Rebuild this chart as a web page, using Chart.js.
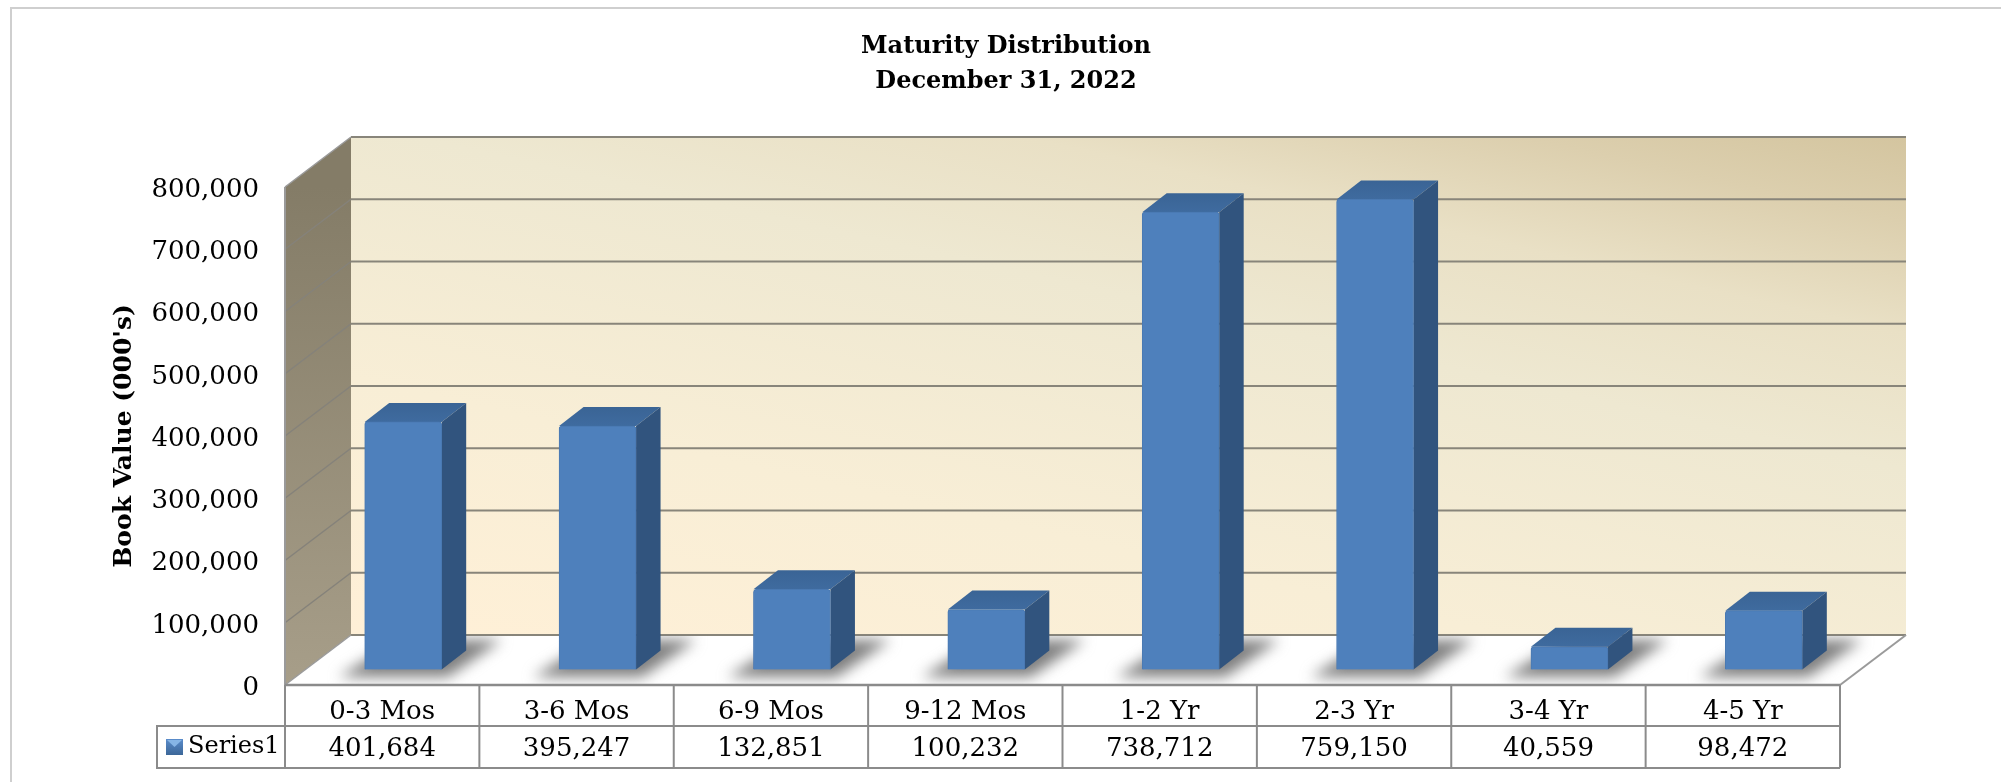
<!DOCTYPE html>
<html lang="en">
<head>
    <meta charset="UTF-8">
    <title>Maturity Distribution</title>
    <style>
        body { margin: 0; background: #fff; }
        .frame {
            position: absolute; left: 10px; top: 7px; right: 0; bottom: 0;
            border-left: 2px solid #cfcfcf; border-top: 2px solid #cfcfcf;
        }
        canvas { position: absolute; left: 0; top: 0; }
    </style>
    <script src="https://cdn.jsdelivr.net/npm/chart.js"></script>
</head>
<body>
    <div class="frame"></div>
    <canvas id="maturityChart" width="2001" height="782"></canvas>
    <script>
        const categories = ['0-3 Mos', '3-6 Mos', '6-9 Mos', '9-12 Mos', '1-2 Yr', '2-3 Yr', '3-4 Yr', '4-5 Yr'];
        const bookValues = [401684, 395247, 132851, 100232, 738712, 759150, 40559, 98472];
        const seriesName = 'Series1';
        const chartTitle = ['Maturity Distribution', 'December 31, 2022'];
        const yTitle = "Book Value (000's)";
        const yMax = 800000;
        const yStep = 100000;

        const FONT = '"DejaVu Serif", serif';
        const fmt = v => v.toLocaleString('en-US');

        // depth of the 3d box, and where the bars sit inside it
        const wallDx = 66, wallDy = -50;
        const barShiftX = 21, barShiftY = -13;
        const barDx = 24.5, barDy = -19;
        const lineColor = '#8b8b8b';

        function poly(ctx, pts, fill) {
            ctx.beginPath();
            pts.forEach((p, i) => i ? ctx.lineTo(p[0], p[1]) : ctx.moveTo(p[0], p[1]));
            ctx.closePath();
            ctx.fillStyle = fill;
            ctx.fill();
        }

        function line(ctx, x1, y1, x2, y2, color, width) {
            ctx.beginPath();
            ctx.moveTo(x1, y1);
            ctx.lineTo(x2, y2);
            ctx.strokeStyle = color;
            ctx.lineWidth = width;
            ctx.stroke();
        }

        const box3d = {
            id: 'box3d',
            beforeDatasetsDraw(chart) {
                const { ctx, chartArea: a, scales: { x, y } } = chart;
                const L = a.left, R = a.right, T = a.top, B = a.bottom;
                ctx.save();

                // back wall, gradient runs corner to corner of the wall
                ctx.save();
                ctx.translate(L + wallDx, T + wallDy);
                ctx.scale(R - L, B - T);
                const back = ctx.createLinearGradient(0.15, 1.1, 0.95, -0.05);
                back.addColorStop(0, '#fff0d7');
                back.addColorStop(0.3, '#f8eed6');
                back.addColorStop(0.6, '#eee8d1');
                back.addColorStop(0.76, '#e9e0c5');
                back.addColorStop(0.89, '#dccfae');
                back.addColorStop(1, '#d3c49e');
                ctx.fillStyle = back;
                ctx.fillRect(0, 0, 1, 1);
                ctx.restore();

                // left wall
                const side = ctx.createLinearGradient(0, T, 0, B);
                side.addColorStop(0, '#847c67');
                side.addColorStop(1, '#a79e89');
                poly(ctx, [[L, T], [L + wallDx, T + wallDy], [L + wallDx, B + wallDy], [L, B]], side);

                // floor
                const floor = [[L, B], [L + wallDx, B + wallDy], [R + wallDx, B + wallDy], [R, B]];
                poly(ctx, floor, '#ffffff');

                // grid lines follow the value scale across both walls
                y.ticks.forEach(t => {
                    const py = y.getPixelForValue(t.value);
                    line(ctx, L + wallDx, py + wallDy, R + wallDx, py + wallDy, '#88857a', 2);
                    if (t.value > 0 && t.value < yMax) line(ctx, L, py, L + wallDx, py + wallDy, '#85827a', 1.5);
                });
                line(ctx, L, T, L + wallDx, T + wallDy, '#9a9a9a', 1.5);
                line(ctx, L, T, L, B, '#9a9a9a', 2);
                line(ctx, L, B, L + wallDx, B + wallDy, '#9a9a9a', 1.5);
                line(ctx, R, B, R + wallDx, B + wallDy, '#9a9a9a', 2);

                // bar shadows on the floor
                ctx.save();
                ctx.beginPath();
                floor.forEach((p, i) => i ? ctx.lineTo(p[0], p[1]) : ctx.moveTo(p[0], p[1]));
                ctx.closePath();
                ctx.clip();
                ctx.filter = 'blur(7px)';
                chart.getDatasetMeta(0).data.forEach(bar => {
                    const l = bar.x + barShiftX - bar.width / 2;
                    const r = l + bar.width;
                    poly(ctx, [[l - 26, 677], [r + 6, 677], [r + 60, 640], [l + 34, 640]], '#7f7f7f');
                });
                ctx.restore();

                // data table lines
                const step = (R - L) / categories.length;
                const row1 = B + 41, row2 = B + 83, left = 157;
                for (let i = 0; i <= categories.length; i++) {
                    line(ctx, L + i * step, B, L + i * step, row2, lineColor, 2);
                }
                line(ctx, L, B, R, B, lineColor, 2.5);
                line(ctx, left, row1, R, row1, lineColor, 2);
                line(ctx, left, row2, R, row2, lineColor, 2);
                line(ctx, left, row1 - 1, left, row2 + 1, lineColor, 2);

                // legend key and series name in the table
                const key = ctx.createLinearGradient(0, row1 + 13, 0, row1 + 29);
                key.addColorStop(0, '#5a8ccb');
                key.addColorStop(1, '#3c6798');
                poly(ctx, [[166, row1 + 13], [183, row1 + 13], [183, row1 + 29], [166, row1 + 29]], key);
                poly(ctx, [[167, row1 + 14], [182, row1 + 14], [174.5, row1 + 21]], '#86b5e6');
                ctx.fillStyle = '#000';
                ctx.font = '24px ' + FONT;
                ctx.textAlign = 'left';
                ctx.textBaseline = 'middle';
                ctx.fillText(seriesName, 188, row1 + 21);
                ctx.restore();
            },
            beforeDatasetDraw(chart, args) {
                const { ctx } = chart;
                ctx.save();
                ctx.translate(barShiftX, barShiftY);
                args.meta.data.forEach(bar => {
                    const l = bar.x - bar.width / 2, r = bar.x + bar.width / 2;
                    const top = ctx.createLinearGradient(0, bar.y + barDy, 0, bar.y);
                    top.addColorStop(0, '#3a6495');
                    top.addColorStop(1, '#3f6b9f');
                    poly(ctx, [[l, bar.y], [l + barDx, bar.y + barDy], [r + barDx, bar.y + barDy], [r, bar.y]], top);
                    poly(ctx, [[r, bar.y], [r + barDx, bar.y + barDy], [r + barDx, bar.base + barDy], [r, bar.base]], '#31547e');
                });
            },
            afterDatasetDraw(chart) {
                chart.ctx.restore();
            }
        };

        new Chart(document.getElementById('maturityChart'), {
            type: 'bar',
            data: {
                labels: categories,
                datasets: [{
                    label: seriesName,
                    data: bookValues,
                    base: 4000,
                    backgroundColor: '#4e80bc',
                    borderColor: '#4a79b2',
                    borderWidth: 1,
                    borderRadius: { topLeft: 3, topRight: 3 },
                    barThickness: 77
                }]
            },
            plugins: [box3d],
            options: {
                responsive: false,
                animation: false,
                layout: { padding: { left: 11 } },
                plugins: {
                    legend: { display: false },
                    tooltip: { enabled: false },
                    title: {
                        display: true,
                        text: chartTitle,
                        color: '#000',
                        font: { family: FONT, size: 24, weight: 'bold', lineHeight: 35 / 24 },
                        padding: { top: 29, bottom: 88 }
                    }
                },
                scales: {
                    x: {
                        afterFit(s) { s.height = 97; },
                        grid: { display: false, drawTicks: false },
                        border: { display: false },
                        ticks: {
                            color: '#000',
                            padding: 9,
                            maxRotation: 0,
                            font: { family: FONT, size: 26, lineHeight: 37 / 26 },
                            callback(v, i) { return [categories[i], fmt(bookValues[i])]; }
                        }
                    },
                    y: {
                        min: 0,
                        max: yMax,
                        afterFit(s) { s.width = 274; },
                        grid: { display: false, drawTicks: false },
                        border: { display: false },
                        title: {
                            display: true,
                            text: yTitle,
                            color: '#000',
                            font: { family: FONT, size: 25, weight: 'bold', lineHeight: 1.2 },
                            padding: { top: 98, bottom: 0 }
                        },
                        ticks: {
                            color: '#000',
                            padding: 26,
                            stepSize: yStep,
                            labelOffset: 3,
                            font: { family: FONT, size: 26 },
                            callback: v => fmt(v)
                        }
                    },
                    // empty axis that holds the white margin right of the plot, the title stays centred on the full width
                    margin: {
                        position: 'right',
                        afterFit(s) { s.width = 161; },
                        grid: { display: false, drawTicks: false },
                        border: { display: false },
                        ticks: { display: false }
                    }
                }
            }
        });
    </script>
</body>
</html>
